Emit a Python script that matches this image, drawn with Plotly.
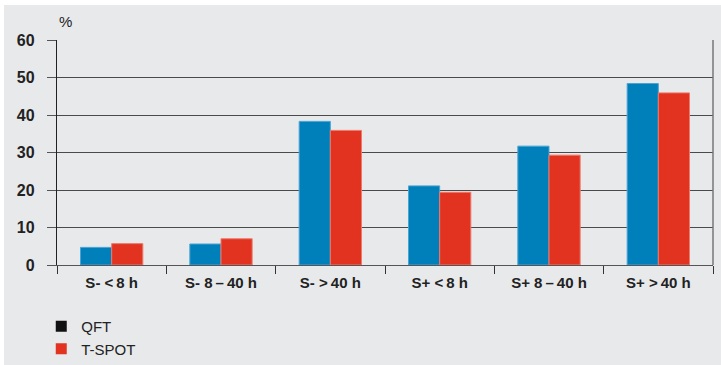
import plotly.graph_objects as go

categories = ["S- <\u20098 h", "S- 8\u2009\u2013\u200940 h", "S- >\u200940 h", "S+ <\u20098 h", "S+ 8\u2009\u2013\u200940 h", "S+ >\u200940 h"]
qft = [4.7, 5.6, 38.3, 21.1, 31.7, 48.4]
tspot = [5.7, 7.0, 35.9, 19.4, 29.3, 45.9]
y_ticks = [0, 10, 20, 30, 40, 50, 60]

BG = "#e8e9eb"
BLUE = "#0080bb"
RED = "#e23320"
FONT = "Liberation Sans, Arial, Helvetica, sans-serif"

W, H = 721, 365
ML, MR, MT, MB = 57, 8, 40, 100
PW = W - ML - MR
PH = H - MT - MB

fig = go.Figure()
fig.add_trace(go.Bar(x=categories, y=qft, name="QFT", marker=dict(color=BLUE, line=dict(color="#4aa3d3", width=1)), showlegend=False))
fig.add_trace(go.Bar(x=categories, y=tspot, name="T-SPOT", marker=dict(color=RED, line=dict(color="#ee7a6c", width=1)), showlegend=False))
# legend entries
fig.add_trace(go.Scatter(x=[None], y=[None], mode="markers", name="QFT",
                         marker=dict(symbol="square", size=11, color="#111111")))
fig.add_trace(go.Scatter(x=[None], y=[None], mode="markers", name="T-SPOT",
                         marker=dict(symbol="square", size=11, color=RED)))

shapes = [
    # white strips on top and left
    dict(type="rect", xref="paper", yref="paper", x0=-ML / PW - 0.01, x1=(4 - ML) / PW,
         y0=-MB / PH - 0.01, y1=1 + MT / PH + 0.01, fillcolor="white", line_width=0, layer="below"),
    dict(type="rect", xref="paper", yref="paper", x0=-ML / PW - 0.01, x1=1 + MR / PW + 0.01,
         y0=1 + (MT - 5) / PH, y1=1 + MT / PH + 0.01, fillcolor="white", line_width=0, layer="below"),
    # right frame line
    dict(type="line", xref="paper", yref="paper", x0=1, x1=1, y0=0, y1=1,
         line=dict(color="#777777", width=1.5)),
]

fig.update_layout(
    width=W, height=H,
    margin=dict(l=ML, r=MR, t=MT, b=MB, autoexpand=False),
    paper_bgcolor=BG, plot_bgcolor=BG,
    barmode="group", bargap=0.43, bargroupgap=0,
    font=dict(family=FONT, color="#1a1a1a"),
    shapes=shapes,
    showlegend=True,
    legend=dict(x=-0.024, y=-0.2, xanchor="left", yanchor="top", bgcolor="rgba(0,0,0,0)",
                font=dict(size=15, color="#222222"), tracegroupgap=0, itemwidth=30),
    xaxis=dict(type="category", tickson="boundaries", ticks="outside", ticklen=8, tickcolor="#333",
               tickwidth=1.2, showgrid=False, showline=True, linecolor="#555", linewidth=1.3,
               tickfont=dict(size=15, weight="bold", color="#222"), ticklabelstandoff=4),
    yaxis=dict(range=[0, 60], tickvals=y_ticks, ticks="outside", ticklen=9, tickcolor="#555",
               tickwidth=1.3, showgrid=True, gridcolor="#4a4a4a", gridwidth=1.3,
               showline=True, linecolor="#222", linewidth=1.3, zeroline=False,
               tickfont=dict(size=16, weight="bold", color="#222"), ticklabelstandoff=9),
    annotations=[dict(text="%", xref="paper", yref="paper", x=0, y=1, xanchor="left", yanchor="bottom",
                      yshift=8, showarrow=False, font=dict(size=15, color="#222"))],
)

fig.write_html("out.html")
